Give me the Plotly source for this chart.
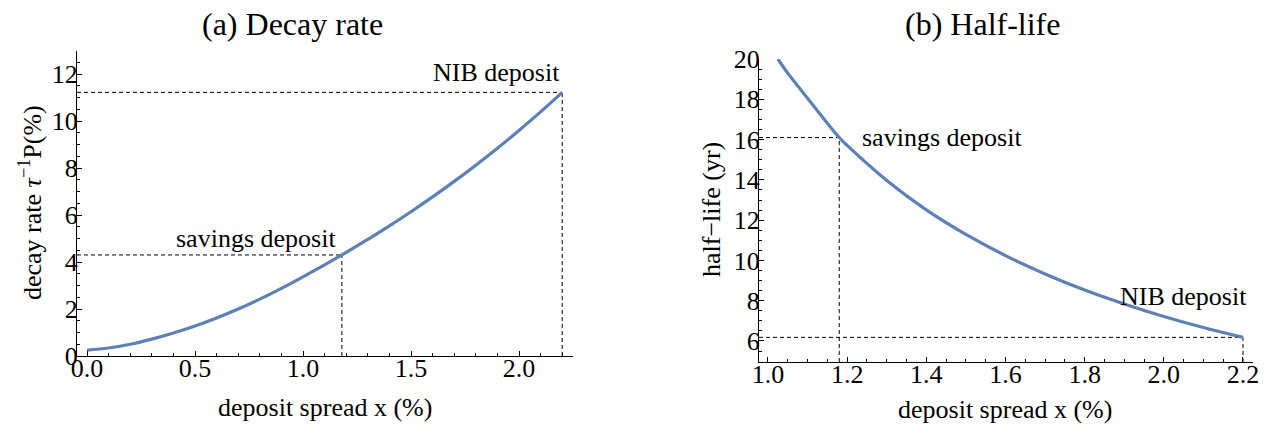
import plotly.graph_objects as go

# Panel (a): decay rate tau^-1 P (%) against deposit spread x (%)
spread_a = [0.0, 0.1, 0.2, 0.3, 0.4, 0.5, 0.6, 0.7, 0.8, 0.9, 1.0, 1.1, 1.18,
            1.2, 1.3, 1.4, 1.5, 1.6, 1.7, 1.8, 1.9, 2.0, 2.1, 2.2]
decay_rate = [0.25, 0.34, 0.50, 0.72, 0.98, 1.28, 1.62, 2.00, 2.42, 2.88, 3.37,
              3.88, 4.30, 4.41, 4.96, 5.54, 6.14, 6.77, 7.43, 8.12, 8.84, 9.60,
              10.39, 11.22]

# Panel (b): half-life (yr) against deposit spread x (%)
spread_b = [1.025, 1.05, 1.1, 1.18, 1.2, 1.3, 1.4, 1.5, 1.6, 1.7, 1.8,
            1.9, 2.0, 2.1, 2.2]
half_life = [20.0, 19.3, 18.05, 16.1, 15.71, 13.97, 12.51, 11.29, 10.24,
             9.33, 8.53, 7.84, 7.22, 6.67, 6.18]

# Marked deposit types
deposit_names = ["savings deposit", "NIB deposit"]
deposit_spread = [1.18, 2.2]
deposit_rate = [4.30, 11.22]
deposit_half_life = [16.1, 6.18]

panel_titles = ["(a) Decay rate", "(b) Half-life"]

W, H = 1270, 428
CURVE = "#5E81B5"
SERIF = "Liberation Serif"
TICK_FONT = dict(family=SERIF, size=26, color="black")
TEXT_FONT = dict(family=SERIF, size=26, color="black")
TITLE_FONT = dict(family=SERIF, size=32, color="black")

XR_A = [-0.0463, 2.25]
YR_A = [0.0, 12.98]
XR_B = [0.9773, 2.2253]
YR_B = [4.957, 20.0]


def px_x(p):
    return p / W


def px_y(p):
    return (H - p) / H


fig = go.Figure()

fig.add_trace(go.Scatter(x=spread_a, y=decay_rate, mode="lines",
                         line=dict(color=CURVE, width=3.2, shape="spline"),
                         xaxis="x", yaxis="y", showlegend=False,
                         hoverinfo="skip"))
fig.add_trace(go.Scatter(x=spread_b, y=half_life, mode="lines",
                         line=dict(color=CURVE, width=3.2, shape="spline"),
                         xaxis="x2", yaxis="y2", showlegend=False,
                         hoverinfo="skip"))

# dashed guide lines from the axes to each marked deposit
dash = dict(color="black", width=1, dash="4px,3px")
shapes = []
for sx, r, h in zip(deposit_spread, deposit_rate, deposit_half_life):
    shapes.append(dict(type="line", xref="x", yref="y", x0=XR_A[0], x1=sx,
                       y0=r, y1=r, line=dash, layer="below"))
    shapes.append(dict(type="line", xref="x", yref="y", x0=sx, x1=sx,
                       y0=YR_A[0], y1=r, line=dash, layer="below"))
    shapes.append(dict(type="line", xref="x2", yref="y2", x0=XR_B[0], x1=sx,
                       y0=h, y1=h, line=dash, layer="below"))
    shapes.append(dict(type="line", xref="x2", yref="y2", x0=sx, x1=sx,
                       y0=YR_B[0], y1=h, line=dash, layer="below"))

annotations = [
    # panel titles
    dict(text=panel_titles[0], xref="paper", yref="paper", x=px_x(292),
         y=px_y(24), showarrow=False, font=TITLE_FONT,
         xanchor="center", yanchor="middle"),
    dict(text=panel_titles[1], xref="paper", yref="paper", x=px_x(982),
         y=px_y(24), showarrow=False, font=TITLE_FONT,
         xanchor="center", yanchor="middle"),
    # axis titles
    dict(text="deposit spread x (%)", xref="paper", yref="paper",
         x=px_x(325), y=px_y(407), showarrow=False, font=TEXT_FONT,
         xanchor="center", yanchor="middle"),
    dict(text="deposit spread x (%)", xref="paper", yref="paper",
         x=px_x(1005), y=px_y(409), showarrow=False, font=TEXT_FONT,
         xanchor="center", yanchor="middle"),
    dict(text="decay rate <i>τ</i><sup>−1</sup>P(%)", xref="paper",
         yref="paper", x=px_x(30), y=px_y(203), textangle=-90,
         showarrow=False, font=TEXT_FONT, xanchor="center",
         yanchor="middle"),
    dict(text="half−life (yr)", xref="paper", yref="paper", x=px_x(711),
         y=px_y(210), textangle=-90, showarrow=False, font=TEXT_FONT,
         xanchor="center", yanchor="middle"),
    # deposit labels, panel (a)
    dict(text=deposit_names[0], xref="x", yref="y", x=0.782, y=5.02,
         showarrow=False, font=TEXT_FONT, xanchor="center",
         yanchor="middle"),
    dict(text=deposit_names[1], xref="x", yref="y", x=deposit_spread[1],
         y=12.05, showarrow=False, font=TEXT_FONT, xanchor="right",
         yanchor="middle", xshift=0),
    # deposit labels, panel (b)
    dict(text=deposit_names[0], xref="x2", yref="y2", x=1.232,
         y=deposit_half_life[0], showarrow=False, font=TEXT_FONT,
         xanchor="left", yanchor="middle"),
    dict(text=deposit_names[1], xref="x2", yref="y2", x=deposit_spread[1],
         y=8.21, showarrow=False, font=TEXT_FONT, xanchor="right",
         yanchor="middle", xshift=6),
]

axis_common = dict(showline=True, linecolor="black", linewidth=1,
                   ticks="inside", ticklen=5, tickwidth=1, tickcolor="black",
                   showgrid=False, zeroline=False, mirror=False,
                   automargin=False,
                   tickfont=TICK_FONT, fixedrange=True)
x_labels = dict(ticklabelstandoff=-11)
y_labels = dict(ticklabelstandoff=-7)

fig.update_layout(
    width=W, height=H, autosize=False,
    margin=dict(l=0, r=0, t=0, b=0, pad=0, autoexpand=False),
    paper_bgcolor="white", plot_bgcolor="white",
    font=dict(family=SERIF, color="black"),
    showlegend=False,
    shapes=shapes,
    annotations=annotations,
    xaxis=dict(domain=[px_x(77), px_x(573)], range=XR_A, anchor="y",
               tick0=0, dtick=0.5, tickformat=".1f",
               minor=dict(dtick=0.1, tick0=0, ticks="inside", ticklen=3,
                          tickcolor="black", showgrid=False),
               **x_labels, **axis_common),
    yaxis=dict(domain=[px_y(356), px_y(51)], range=YR_A, anchor="x",
               tick0=0, dtick=2,
               minor=dict(dtick=0.5, tick0=0, ticks="inside", ticklen=3,
                          tickcolor="black", showgrid=False),
               **y_labels, **axis_common),
    xaxis2=dict(domain=[px_x(759), px_x(1253)], range=XR_B, anchor="y2",
                tick0=1.0, dtick=0.2, tickformat=".1f",
                minor=dict(dtick=0.05, tick0=1.0, ticks="inside", ticklen=3,
                           tickcolor="black", showgrid=False),
                **x_labels, **axis_common),
    yaxis2=dict(domain=[px_y(362), px_y(59)], range=YR_B, anchor="x2",
                tick0=0, dtick=2,
                minor=dict(dtick=0.5, tick0=0, ticks="inside", ticklen=3,
                           tickcolor="black", showgrid=False),
                **y_labels, **axis_common),
)

fig.write_html("out.html")
